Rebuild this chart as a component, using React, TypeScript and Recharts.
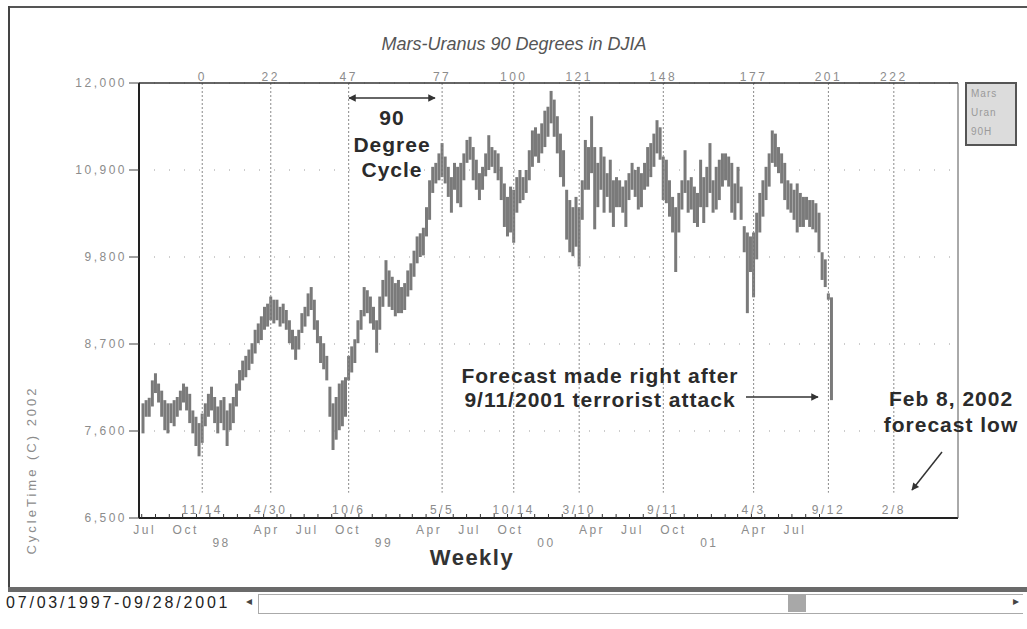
import React from "react";
import { ComposedChart, Bar, XAxis, YAxis, CartesianGrid, ReferenceLine } from "recharts";

// weekly DJIA bars, first bar is the week of 07/03/1997 (bar -19 of the cycle count)
const firstWeek = -19;
const weeklyHigh = [
  7950, 7990, 8020, 8240, 8330, 8200, 8110, 7990, 7950, 7950, 7990, 8030, 8110, 8200, 8160, 8070, 7860, 7780, 7700,
  7820, 7950, 8070, 8160, 8030, 7910, 7990, 8030, 7860, 7950, 8030, 8200, 8370, 8490, 8550, 8630, 8710, 8880, 8960,
  9050, 9170, 9210, 9300, 9260, 9260, 9170, 9210, 9130, 9000, 8880, 8800, 8880, 9090, 9170, 9340, 9420, 9260, 9000,
  8800, 8710, 8550, 8160, 7950, 8030, 8200, 8240, 8280, 8550, 8670, 8760, 9000, 9130, 9420, 9380, 9300, 9170, 9000,
  9300, 9510, 9760, 9630, 9550, 9470, 9510, 9420, 9470, 9630, 9720, 9880, 10060, 10100, 10170, 10430, 10770, 10940,
  10990, 11110, 11240, 11070, 10940, 10810, 10990, 10940, 10990, 11110, 11280, 11320, 11190, 11030, 10860, 10940,
  11110, 11340, 11190, 11150, 11110, 10940, 10730, 10560, 10690, 10650, 10810, 10900, 10810, 10900, 11150, 11400,
  11440, 11360, 11490, 11650, 11700, 11900, 11790, 11580, 11360, 11150, 10650, 10520, 10430, 10560, 10430, 10770,
  11280, 11190, 11580, 11190, 10990, 11190, 11070, 10860, 11030, 10770, 10810, 10770, 10690, 10770, 10860, 10990,
  10900, 10940, 10860, 10990, 11190, 11240, 11360, 11530, 11440, 11070, 11030, 10770, 10560, 10430, 10610, 10770,
  11150, 10770, 10810, 10690, 10610, 11030, 10810, 10940, 11240, 10770, 10940, 11030, 11110, 11110, 11070, 10990,
  10730, 10940, 10690, 10190, 10110, 10060, 10110, 10360, 10610, 10770, 10940, 11110, 11400, 11360, 11190, 11110,
  10990, 10770, 10730, 10650, 10730, 10610, 10560, 10560, 10520, 10520, 10480, 10360, 9860, 9770, 9340, 9290,
];
const weeklyLow = [
  7570, 7780, 7780, 7910, 8080, 7960, 7780, 7610, 7570, 7700, 7660, 7780, 7860, 7960, 7860, 7700, 7570, 7410, 7280,
  7450, 7660, 7780, 7860, 7700, 7570, 7700, 7610, 7410, 7610, 7700, 7910, 8110, 8240, 8280, 8370, 8450, 8580, 8710,
  8750, 8880, 8920, 9000, 8960, 9000, 8920, 8960, 8880, 8710, 8630, 8500, 8630, 8840, 8920, 9050, 9130, 8880, 8710,
  8460, 8380, 8240, 7780, 7360, 7490, 7610, 7660, 7780, 8240, 8340, 8460, 8710, 8880, 9050, 9090, 8960, 8880, 8590,
  8880, 9170, 9300, 9170, 9130, 9050, 9090, 9090, 9130, 9300, 9380, 9550, 9720, 9800, 9820, 10060, 10270, 10610,
  10730, 10770, 10810, 10730, 10560, 10360, 10650, 10480, 10430, 10770, 10990, 11030, 10770, 10650, 10520, 10650,
  10820, 10900, 10940, 10860, 10770, 10520, 10180, 10060, 10110, 9980, 10360, 10480, 10520, 10610, 10770, 10940,
  11070, 10990, 11110, 11190, 11320, 11490, 11320, 11110, 10810, 10690, 10020, 9860, 9810, 9930, 9680, 10270,
  10650, 10650, 10860, 10150, 10430, 10650, 10360, 10560, 10360, 10180, 10430, 10430, 10360, 10180, 10520, 10650,
  10560, 10400, 10430, 10650, 10690, 10810, 10940, 11110, 11030, 10520, 10480, 10310, 10110, 9610, 10110, 10400,
  10610, 10360, 10400, 10230, 10180, 10430, 10230, 10430, 10610, 10360, 10400, 10520, 10690, 10770, 10690, 10360,
  10270, 10480, 10270, 9860, 9090, 9610, 9290, 9770, 10110, 10310, 10520, 10690, 10990, 10940, 10860, 10730,
  10520, 10400, 10360, 10270, 10110, 10180, 10180, 10270, 10180, 10150, 10110, 9860, 9510, 9420, 9260, 7990,
];

// Mars-Uranus 90 degree cycle bars and their dates
const cycleBars = [0, 22, 47, 77, 100, 121, 148, 177, 201, 222];
const cycleDates = ["11/14", "4/30", "10/6", "5/5", "10/14", "3/10", "9/11", "4/3", "9/12", "2/8"];
const yTicks = [6500, 7600, 8700, 9800, 10900, 12000];
const monthNames: Record<number, string> = { 3: "Apr", 6: "Jul", 9: "Oct" };
const barZeroDate = Date.UTC(1997, 10, 14);

const weekly = weeklyHigh.map((h, i) => ({ w: firstWeek + i, range: [weeklyLow[i], h] }));

// month starts Jul 1997 .. Sep 2001 on the week scale
const monthTicks: { w: number; label: string; year: string }[] = [];
for (let k = 0; k < 51; k++) {
  const y = 1997 + Math.floor((6 + k) / 12);
  const m = (6 + k) % 12;
  monthTicks.push({
    w: (Date.UTC(y, m, 1) - barZeroDate) / (7 * 86400000),
    label: monthNames[m] || "",
    year: m === 0 ? String(y).slice(2) : "",
  });
}

const FONT = "'Liberation Sans', Arial, sans-serif";
const GREY = "#8c8c8c";
const AXIS_Y = 518;

const MonthTick = (props: any) => {
  const { x, index } = props;
  const t = monthTicks[index];
  if (!t) return null;
  return (
    <g>
      <line x1={x} x2={x} y1={AXIS_Y - 4} y2={AXIS_Y} stroke="#333" strokeWidth={1} />
      {t.label && (
        <text x={x + 3} y={534} textAnchor="middle" fontSize={12} letterSpacing={2.5} fill={GREY} fontFamily={FONT}>
          {t.label}
        </text>
      )}
      {t.year && (
        <text x={x - 2} y={547} textAnchor="middle" fontSize={12} letterSpacing={2.5} fill={GREY} fontFamily={FONT}>
          {t.year}
        </text>
      )}
    </g>
  );
};

const TopTick = (props: any) => (
  <text x={props.x} y={81} textAnchor="middle" fontSize={12} letterSpacing={2.5} fill={GREY} fontFamily={FONT}>
    {props.payload.value}
  </text>
);

const bold = { fontFamily: FONT, fontWeight: 700, fontSize: 21, letterSpacing: 1, fill: "#2b2b2b" } as const;

export default function App() {
  return (
    <div style={{ position: "absolute", left: 0, top: 0, width: 1027, height: 629, background: "#fff", overflow: "hidden", fontFamily: FONT }}>
      {/* outer frame */}
      <div style={{ position: "absolute", left: 8, top: 6, width: 1019, height: 2, background: "#555" }} />
      <div style={{ position: "absolute", left: 8, top: 6, width: 2, height: 586, background: "#444" }} />

      <ComposedChart width={1027} height={629} data={weekly} margin={{ top: 63, right: 68, bottom: 71, left: 8 }}>
        <CartesianGrid xAxisId="bottom" yAxisId="left" vertical={false} stroke="#9a9a9a" strokeDasharray="1 14" />
        <XAxis
          xAxisId="bottom"
          dataKey="w"
          type="number"
          domain={[-20.3, 242.6]}
          allowDataOverflow
          ticks={monthTicks.map((t) => t.w)}
          interval={0}
          tick={<MonthTick />}
          tickLine={false}
          axisLine={{ stroke: "#222", strokeWidth: 2 }}
          height={40}
        />
        <XAxis
          xAxisId="top"
          orientation="top"
          dataKey="w"
          type="number"
          domain={[-20.3, 242.6]}
          allowDataOverflow
          ticks={cycleBars}
          interval={0}
          tick={<TopTick />}
          tickLine={false}
          axisLine={{ stroke: "#333", strokeWidth: 1.5 }}
          height={20}
        />
        <YAxis
          yAxisId="left"
          domain={[6500, 12000]}
          ticks={yTicks}
          interval={0}
          width={131}
          tickSize={10}
          tickMargin={2}
          tickFormatter={(v: number) => v.toLocaleString("en-US")}
          tick={{ fontSize: 12, letterSpacing: 2.5, fill: GREY, fontFamily: FONT }}
          tickLine={{ stroke: "#444" }}
          axisLine={{ stroke: "#222", strokeWidth: 2 }}
        />
        <YAxis yAxisId="right" orientation="right" domain={[6500, 12000]} tick={false} tickLine={false} width={1} axisLine={{ stroke: "#555" }} />
        {cycleBars.map((b, i) => (
          <ReferenceLine
            key={b}
            xAxisId="bottom"
            yAxisId="left"
            segment={[{ x: b, y: 12000 }, { x: b, y: 6820 }]}
            stroke="#8a8a8a"
            strokeDasharray="2 2"
            ifOverflow="visible"
            label={(p: any) => (
              <text x={p.viewBox.x} y={514} textAnchor="middle" fontSize={12} letterSpacing={2.5} fill={GREY} fontFamily={FONT}>
                {cycleDates[i]}
              </text>
            )}
          />
        ))}
        <Bar xAxisId="bottom" yAxisId="left" dataKey="range" name="Mars Uran 90H" barSize={3} fill="#7a7a7a" isAnimationActive={false} />
      </ComposedChart>

      {/* annotations */}
      <svg width={1027} height={629} style={{ position: "absolute", left: 0, top: 0, pointerEvents: "none" }}>
        <defs>
          <marker id="ah" viewBox="0 0 10 10" refX="9" refY="5" markerWidth="7" markerHeight="5" orient="auto-start-reverse">
            <path d="M0,0 L10,5 L0,10 z" fill="#333" />
          </marker>
        </defs>
        <text x={514} y={50} textAnchor="middle" fontSize={18} fontStyle="italic" fill="#555" fontFamily={FONT}>
          Mars-Uranus 90 Degrees in DJIA
        </text>
        <line x1={349} y1={98} x2={435} y2={98} stroke="#333" strokeWidth={1.5} markerStart="url(#ah)" markerEnd="url(#ah)" />
        <text x={392} y={125} textAnchor="middle" {...bold}>90</text>
        <text x={392} y={152} textAnchor="middle" {...bold}>Degree</text>
        <text x={392} y={177} textAnchor="middle" {...bold}>Cycle</text>
        <text x={600} y={383} textAnchor="middle" {...bold}>Forecast made right after</text>
        <text x={600} y={407} textAnchor="middle" {...bold}>9/11/2001 terrorist attack</text>
        <line x1={746} y1={397} x2={818} y2={397} stroke="#333" strokeWidth={1.5} markerEnd="url(#ah)" />
        <text x={951} y={406} textAnchor="middle" {...bold}>Feb 8, 2002</text>
        <text x={951} y={432} textAnchor="middle" {...bold}>forecast low</text>
        <line x1={942} y1={452} x2={912} y2={490} stroke="#333" strokeWidth={1.5} markerEnd="url(#ah)" />
        <text x={472} y={565} textAnchor="middle" {...bold} fontSize={22} letterSpacing={1.5} fill="#333">
          Weekly
        </text>
        <text
          x={0}
          y={0}
          transform="translate(36 470) rotate(-90)"
          textAnchor="middle"
          fontSize={13}
          letterSpacing={3}
          fill={GREY}
          fontFamily={FONT}
        >
          CycleTime (C) 2002
        </text>
      </svg>

      {/* legend box */}
      <div
        style={{
          position: "absolute",
          left: 965,
          top: 82,
          width: 44,
          height: 60,
          border: "2px solid #555",
          background: "#dcdcdc",
          color: "#9a9a9a",
          fontSize: 10,
          lineHeight: "19px",
          paddingLeft: 4,
          letterSpacing: 1,
        }}
      >
        <div>Mars</div>
        <div>Uran</div>
        <div>90H</div>
      </div>

      {/* scroll strip */}
      <div style={{ position: "absolute", left: 8, top: 587, width: 1019, height: 5, background: "#6a6a6a" }} />
      <div
        style={{
          position: "absolute",
          left: 6,
          top: 594,
          fontSize: 16,
          letterSpacing: 2.8,
          color: "#222",
          lineHeight: "18px",
        }}
      >
        07/03/1997-09/28/2001
      </div>
      <div style={{ position: "absolute", left: 246, top: 594, fontSize: 12, color: "#444", fontFamily: "'DejaVu Sans'" }}>◂</div>
      <div style={{ position: "absolute", left: 258, top: 594, width: 764, height: 18, border: "1px solid #aaa", borderRight: "none", background: "#fff" }} />
      <div style={{ position: "absolute", left: 788, top: 595, width: 18, height: 17, background: "#a8a8a8" }} />
      <div style={{ position: "absolute", left: 1013, top: 594, fontSize: 12, color: "#444", fontFamily: "'DejaVu Sans'" }}>▸</div>
    </div>
  );
}
